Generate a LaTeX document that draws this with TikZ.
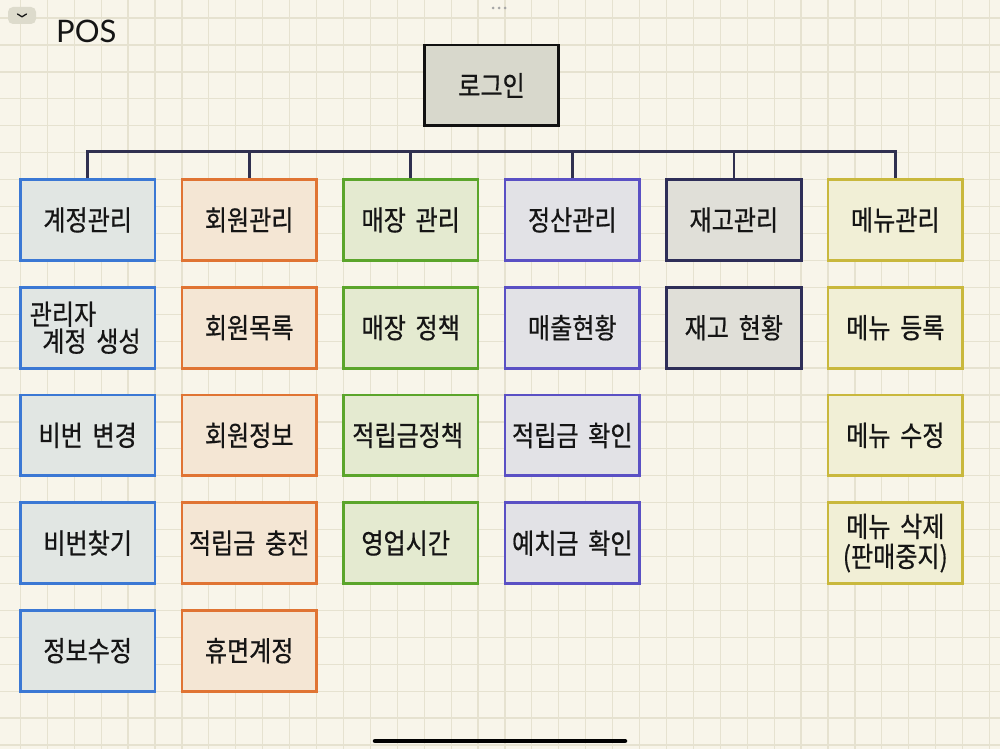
\documentclass[tikz,border=0pt]{standalone}
\usepackage{fontspec}
\setmainfont{Lato}
\newfontfamily\kr{Noto Sans CJK KR}[FakeStretch=0.86,WordSpace=1.8,FakeBold=0.6]
\definecolor{bg}{HTML}{F8F5EA}
\definecolor{gridc}{HTML}{E6E2D0}
\definecolor{btnC}{HTML}{DDDBCC}
\definecolor{blueC}{HTML}{3B78D4}\definecolor{blueCfill}{HTML}{E1E6E3}
\definecolor{orangeC}{HTML}{E07433}\definecolor{orangeCfill}{HTML}{F4E6D4}
\definecolor{greenC}{HTML}{5BA52B}\definecolor{greenCfill}{HTML}{E4EAD0}
\definecolor{purpleC}{HTML}{5A50C4}\definecolor{purpleCfill}{HTML}{E2E2E6}
\definecolor{navyC}{HTML}{2E2E58}\definecolor{navyCfill}{HTML}{E0DFD8}
\definecolor{yellowC}{HTML}{C9B83D}\definecolor{yellowCfill}{HTML}{F1EFD6}
\definecolor{loginC}{HTML}{111111}\definecolor{loginCfill}{HTML}{D8D8CC}
\definecolor{busC}{HTML}{303050}
\definecolor{txt}{HTML}{151515}
\begin{document}
\begin{tikzpicture}[x=1pt,y=-1pt,
  box/.style={draw=#1, fill=#1fill, line width=2.8pt, minimum width=134.6pt,
    minimum height=80.8pt, inner sep=0pt, align=center, text=txt,
    font=\kr\fontsize{28}{30}\selectfont},
  bus/.style={draw=busC, line width=2.6pt},
  gridline/.style={draw=gridc, line width=1.2pt}]
\useasboundingbox (0,0) rectangle (1000,749);
\fill[bg] (0,0) rectangle (1000,749);
\foreach \i in {0,...,36} {\draw[gridline] ({20.4+26.92*\i},0) -- ({20.4+26.92*\i},749);}
\foreach \j in {0,...,27} {\draw[gridline] (0,{18.1+26.92*\j}) -- (1000,{18.1+26.92*\j});}
% window decorations
\fill[btnC, rounded corners=5pt] (8,7) rectangle (36,24);
\draw[line width=1.3pt, draw=txt, line cap=round, line join=round] (17.5,14) -- (22,16.8) -- (26.5,14);
\foreach \d in {493,499,505} {\fill[gray!70] (\d,8) circle (1.5pt);}
\draw[line width=4.5pt, line cap=round, draw=black] (375,741) -- (625,741);
\node[anchor=base west, inner sep=0pt, font=\fontsize{31}{33}\selectfont, text=txt] (title) at (56,43) {POS};
% login
\node[box=loginC] (login) at (491.5,85.4) {로그인};
% column 1
\node[box=blueC] (h1) at (87.7,220) {계정관리};
\node[box=blueC, align=left, font=\kr\fontsize{28}{27}\selectfont] (a2) at (87.7,327.7) {관리자\\\hspace*{0.45em}계정 생성\hspace*{5pt}};
\node[box=blueC] (a3) at (87.7,435.4) {비번 변경};
\node[box=blueC] (a4) at (87.7,543.1) {비번찾기};
\node[box=blueC] (a5) at (87.7,650.7) {정보수정};
% column 2
\node[box=orangeC] (h2) at (249.2,220) {회원관리};
\node[box=orangeC] (b2) at (249.2,327.7) {회원목록};
\node[box=orangeC] (b3) at (249.2,435.4) {회원정보};
\node[box=orangeC] (b4) at (249.2,543.1) {적립금 충전};
\node[box=orangeC] (b5) at (249.2,650.7) {휴면계정};
% column 3
\node[box=greenC] (h3) at (410.7,220) {매장 관리};
\node[box=greenC] (c2) at (410.7,327.7) {매장 정책};
\node[box=greenC] (c3) at (410.7,435.4) {적립금정책\hspace*{6pt}};
\node[box=greenC] (c4) at (410.7,543.1) {영업시간\hspace*{10pt}};
% column 4
\node[box=purpleC] (h4) at (572.3,220) {정산관리};
\node[box=purpleC] (d2) at (572.3,327.7) {매출현황};
\node[box=purpleC] (d3) at (572.3,435.4) {적립금 확인};
\node[box=purpleC] (d4) at (572.3,543.1) {예치금 확인};
% column 5
\node[box=navyC] (h5) at (733.8,220) {재고관리};
\node[box=navyC] (e2) at (733.8,327.7) {재고 현황};
% column 6
\node[box=yellowC] (h6) at (895.3,220) {메뉴관리};
\node[box=yellowC] (f2) at (895.3,327.7) {메뉴 등록};
\node[box=yellowC] (f3) at (895.3,435.4) {메뉴 수정};
\node[box=yellowC] (f4) at (895.3,543.1) {메뉴 삭제\\(판매중지)};
% bus
\draw[bus] (h1.north) -- ++(0,-26.92) -| (h6.north);
\foreach \h in {h2,h3,h4,h5} {\draw[bus] (\h.north) -- ++(0,-26.92);}
\end{tikzpicture}
\end{document}
